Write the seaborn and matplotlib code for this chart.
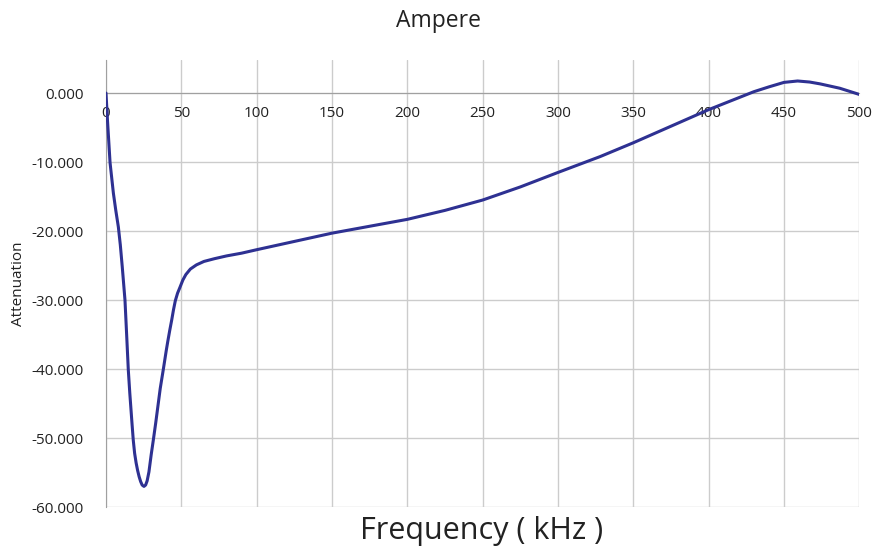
import numpy as np
import pandas as pd
import matplotlib
matplotlib.use("Agg")
import matplotlib.pyplot as plt
import seaborn as sns
from matplotlib.ticker import FormatStrFormatter

# ---------------- DATA ----------------
freq_khz = [0, 1, 2.7, 4.9, 6.5, 8.2, 9.5, 10.8, 12.6, 13.7, 14.8, 15.8, 17.3,
            18.1, 19, 20, 21, 22, 23, 24, 25.2, 26.3, 27.3, 28.5, 30, 31.4, 33,
            34.5, 36, 38, 40, 41, 42.3, 43.6, 44.8, 46, 47.5, 49, 51, 53, 56,
            60, 65, 72, 80, 90, 100, 125, 150, 175, 200, 225, 250, 275, 300,
            328, 350, 375, 400, 415, 430, 440, 450, 459, 467, 474, 487, 500]
attenuation = [0, -4.0, -10.1, -14.5, -17.0, -19.4, -22.0, -25.2, -30.0, -35.0,
               -40.1, -43.5, -48.0, -50.3, -52.2, -53.6, -54.7, -55.6, -56.3,
               -56.8, -57.0, -56.8, -56.2, -54.9, -52.4, -50.3, -47.8, -45.3,
               -42.8, -40.1, -37.3, -36.0, -34.4, -32.9, -31.4, -30.1, -29.0,
               -28.2, -27.1, -26.3, -25.5, -24.9, -24.4, -24.0, -23.6, -23.2,
               -22.7, -21.5, -20.3, -19.3, -18.3, -17.0, -15.5, -13.6, -11.5,
               -9.2, -7.2, -4.8, -2.4, -1.1, 0.2, 0.9, 1.55, 1.75, 1.6, 1.33,
               0.7, -0.2]

x_ticks = [0, 50, 100, 150, 200, 250, 300, 350, 400, 450, 500]
y_ticks = [0, -10, -20, -30, -40, -50, -60]

df = pd.DataFrame({"freq": freq_khz, "att": attenuation})

# ---------------- STYLE ----------------
sns.set_style("white")
plt.rcParams["font.family"] = ["Open Sans", "DejaVu Sans"]

fig = plt.figure(figsize=(8.76, 5.5), dpi=100)
ax = fig.add_axes([0.121, 0.078, 0.860, 0.813])

sns.lineplot(data=df, x="freq", y="att", ax=ax, color="#2E3192",
             linewidth=2.2, zorder=3)

ax.set_xlim(0, 500)
ax.set_ylim(-60, 4.8)
ax.set_xticks(x_ticks)
ax.set_yticks(y_ticks)
ax.yaxis.set_major_formatter(FormatStrFormatter("%.3f"))

ax.grid(True, color="#cccccc", linewidth=1.0, zorder=0)
ax.set_axisbelow(True)

# excel-like axes: x axis crosses at y = 0
ax.spines["bottom"].set_position(("data", 0))
ax.spines["bottom"].set_color("#a0a0a0")
ax.spines["left"].set_color("#a0a0a0")
ax.spines["top"].set_visible(False)
ax.spines["right"].set_visible(False)
ax.tick_params(axis="both", length=0, labelsize=11, colors="#222222")
ax.tick_params(axis="x", pad=9)
ax.tick_params(axis="y", pad=16)

ax.set_xlabel("")
ax.set_ylabel("Attenuation", fontsize=11, color="#222222", labelpad=4)
fig.text(0.5, 0.962, "Ampere", fontsize=16.5, ha="center", va="center",
         color="#222222")
fig.text(0.550, 0.035, "Frequency ( kHz )", fontsize=22, ha="center",
         va="center", color="#222222")

fig.savefig("out.png", dpi=100)
